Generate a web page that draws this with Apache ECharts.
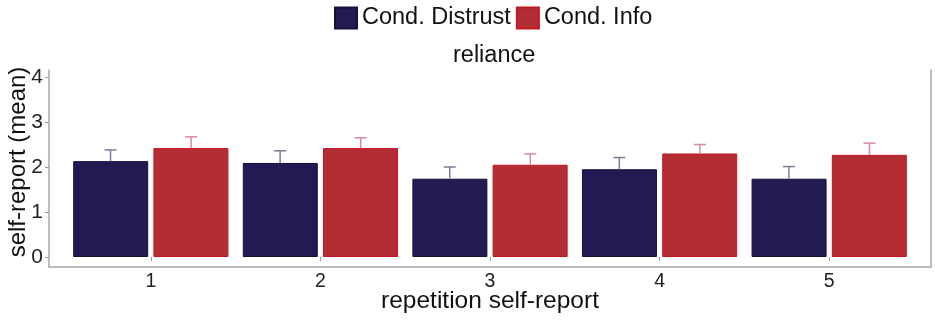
<!DOCTYPE html>
<html>
<head>
<meta charset="utf-8">
<script src="https://cdn.jsdelivr.net/npm/echarts@6/dist/echarts.min.js"></script>
<style>
  html, body { margin: 0; padding: 0; background: #fff; }
  #main { width: 935px; height: 325px; }
</style>
</head>
<body>
<div id="main"></div>
<script>
// data
let categories = ['1', '2', '3', '4', '5'];
let distrust = [2.13, 2.09, 1.74, 1.95, 1.74];
let distrustUpper = [2.38, 2.36, 2.00, 2.21, 2.01];
let info = [2.42, 2.42, 2.05, 2.30, 2.27];
let infoUpper = [2.67, 2.65, 2.29, 2.50, 2.53];
let yTicks = [0, 1, 2, 3, 4];

window.addEventListener('load', function () {
    let chart = echarts.init(document.getElementById('main'));
    let font = 'Liberation Sans, Arial, sans-serif';

    // error whisker (upper half only, like the picture)
    function errorBar(sign, color) {
        return function (params, api) {
            let cat = api.value(0);
            let lo = api.coord([cat, api.value(1)]);
            let hi = api.coord([cat, api.value(2)]);
            let band = api.size([1, 0])[0];
            let x = lo[0] + sign * band * 0.2375;
            let style = { stroke: color, lineWidth: 1.5 };
            return {
                type: 'group',
                children: [
                    { type: 'line', shape: { x1: x, y1: lo[1], x2: x, y2: hi[1] }, style: style },
                    { type: 'line', shape: { x1: x - 6, y1: hi[1], x2: x + 6, y2: hi[1] }, style: style }
                ]
            };
        };
    }

    let option = {
        animation: false,
        backgroundColor: '#fff',
        textStyle: { fontFamily: font },
        title: {
            text: 'reliance',
            left: 448,
            top: 39,
            textStyle: { fontSize: 23.5, fontWeight: 'normal', color: '#111', fontFamily: font }
        },
        legend: {
            data: ['Cond. Distrust', 'Cond. Info'],
            left: 329,
            top: 1,
            icon: 'rect',
            itemWidth: 22,
            itemHeight: 21,
            itemGap: 5,
            textStyle: { fontSize: 23.5, color: '#111', fontFamily: font }
        },
        grid: [
            { left: 66, right: 21, top: 77, bottom: 68, outerBoundsMode: 'none', containLabel: false },
            { left: 49, right: 4, top: 70, bottom: 58, outerBoundsMode: 'none', containLabel: false }
        ],
        xAxis: [
            {
                type: 'category',
                gridIndex: 0,
                data: categories,
                offset: 10,
                axisLine: { show: false },
                axisTick: { show: true, alignWithLabel: true, length: 4, lineStyle: { color: '#999' } },
                axisLabel: { fontSize: 19.5, color: '#222', margin: 5 },
                name: 'repetition self-report',
                nameLocation: 'middle',
                nameMoveOverlap: false,
                nameGap: 22,
                nameTextStyle: { fontSize: 24.5, color: '#111' }
            },
            {
                type: 'value',
                gridIndex: 1,
                min: 0,
                max: 1,
                axisLine: { show: true, onZero: false, lineStyle: { color: '#a8a8a8', width: 1.5 } },
                axisTick: { show: false },
                axisLabel: { show: false },
                splitLine: { show: false }
            }
        ],
        yAxis: [
            {
                type: 'value',
                gridIndex: 0,
                min: 0,
                max: 4,
                interval: 1,
                offset: 17,
                axisLine: { show: false },
                axisTick: { show: true, length: 4, lineStyle: { color: '#999' } },
                axisLabel: {
                    fontSize: 21, color: '#222', margin: 6,
                    formatter: function (v) { return yTicks.indexOf(v) >= 0 ? String(v) : ''; }
                },
                splitLine: { show: false },
                name: 'self-report (mean)',
                nameLocation: 'middle',
                nameMoveOverlap: false,
                nameGap: 19,
                nameTextStyle: { fontSize: 24, color: '#111', padding: [0, 0, 0, 10] }
            },
            {
                type: 'value',
                gridIndex: 1,
                position: 'left',
                min: 0,
                max: 1,
                axisLine: { show: true, onZero: false, lineStyle: { color: '#a8a8a8', width: 1.5 } },
                axisTick: { show: false },
                axisLabel: { show: false },
                splitLine: { show: false }
            },
            {
                type: 'value',
                gridIndex: 1,
                position: 'right',
                min: 0,
                max: 1,
                axisLine: { show: true, onZero: false, lineStyle: { color: '#a8a8a8', width: 1.5 } },
                axisTick: { show: false },
                axisLabel: { show: false },
                splitLine: { show: false }
            }
        ],
        series: [
            {
                name: 'Cond. Distrust',
                type: 'bar',
                xAxisIndex: 0,
                yAxisIndex: 0,
                barWidth: 75,
                barGap: '7%',
                data: distrust,
                itemStyle: { color: '#221a52', borderColor: '#15103c', borderWidth: 1 }
            },
            {
                name: 'Cond. Info',
                type: 'bar',
                xAxisIndex: 0,
                yAxisIndex: 0,
                barWidth: 75,
                barGap: '7%',
                data: info,
                itemStyle: { color: '#b32d34', borderColor: '#c4161f', borderWidth: 1 }
            },
            {
                name: 'Cond. Distrust',
                type: 'custom',
                xAxisIndex: 0,
                yAxisIndex: 0,
                z: 5,
                renderItem: errorBar(-1, '#7e7a96'),
                data: categories.map(function (c, i) { return [i, distrust[i], distrustUpper[i]]; })
            },
            {
                name: 'Cond. Info',
                type: 'custom',
                xAxisIndex: 0,
                yAxisIndex: 0,
                z: 5,
                renderItem: errorBar(1, '#d8899a'),
                data: categories.map(function (c, i) { return [i, info[i], infoUpper[i]]; })
            }
        ]
    };
    chart.setOption(option);
}, false);
</script>
</body>
</html>
